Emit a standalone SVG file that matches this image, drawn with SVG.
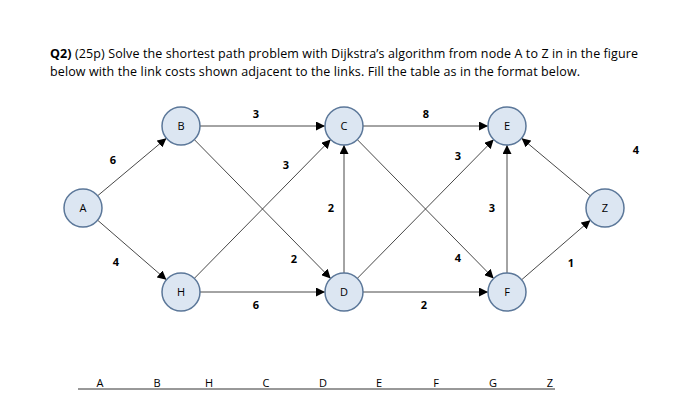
<svg xmlns="http://www.w3.org/2000/svg" width="700" height="416" viewBox="0 0 700 416">
<defs>
<marker id="ar" viewBox="0 0 10 10" refX="10" refY="5" markerWidth="9" markerHeight="9" markerUnits="userSpaceOnUse" orient="auto"><path d="M0,0L10,5L0,10z" fill="#000"/></marker>
</defs>
<style>
.t{font-family:"Open Sans","Liberation Sans",sans-serif;font-size:12.5px;fill:#000}
.n circle{fill:#dce6f2;stroke:#5b7799;stroke-width:1.5}
.n text{font-family:"Open Sans","Liberation Sans",sans-serif;font-size:11px;text-anchor:middle;fill:#000}
.e line{stroke:#333;stroke-width:0.9;marker-end:url(#ar)}
.w{font-family:"Open Sans","Liberation Sans",sans-serif;font-size:11px;font-weight:bold;text-anchor:middle}
.h{font-family:"Open Sans","Liberation Sans",sans-serif;font-size:11px;text-anchor:middle}
</style>
<rect width="700" height="416" fill="#fff"/>
<text class="t" x="50" y="58" textLength="588"><tspan font-weight="bold">Q2)</tspan> (25p) Solve the shortest path problem with Dijkstra’s algorithm from node A to Z in in the figure</text>
<text class="t" x="50" y="76" textLength="530">below with the link costs shown adjacent to the links. Fill the table as in the format below.</text>
<g class="e" id="connectors">
<line x1="97.6" y1="195.8" x2="166.4" y2="138.2"/>
<line x1="97.6" y1="220.2" x2="166.4" y2="279.8"/>
<line x1="200" y1="126" x2="325" y2="126"/>
<line x1="194.3" y1="139.6" x2="330.7" y2="278.4"/>
<line x1="194.3" y1="278.4" x2="330.7" y2="139.6"/>
<line x1="200" y1="292" x2="325" y2="292"/>
<line x1="344" y1="273" x2="344" y2="145"/>
<line x1="363" y1="126" x2="488" y2="126"/>
<line x1="357.3" y1="139.6" x2="493.7" y2="278.4"/>
<line x1="357.3" y1="278.4" x2="493.7" y2="139.6"/>
<line x1="363" y1="292" x2="488" y2="292"/>
<line x1="507" y1="273" x2="507" y2="145"/>
<line x1="590.4" y1="195.8" x2="521.6" y2="138.2"/>
<line x1="521.6" y1="279.8" x2="590.4" y2="220.2"/>
</g>
<g id="weights" class="w">
<text x="113" y="164">6</text><text x="116" y="266">4</text>
<text x="256" y="118">3</text><text x="286" y="169">3</text>
<text x="331" y="212">2</text><text x="294" y="263">2</text>
<text x="256" y="309">6</text><text x="426" y="118">8</text>
<text x="458" y="160">3</text><text x="458" y="262">4</text>
<text x="424" y="309">2</text><text x="492" y="212">3</text>
<text x="636" y="154">4</text><text x="571" y="267">1</text>
</g>
<g class="n" id="A"><circle cx="83" cy="208" r="19"/><text x="83" y="212">A</text></g>
<g class="n" id="B"><circle cx="181" cy="126" r="19"/><text x="181" y="130">B</text></g>
<g class="n" id="H"><circle cx="181" cy="292" r="19"/><text x="181" y="296">H</text></g>
<g class="n" id="C"><circle cx="344" cy="126" r="19"/><text x="344" y="130">C</text></g>
<g class="n" id="D"><circle cx="344" cy="292" r="19"/><text x="344" y="296">D</text></g>
<g class="n" id="E"><circle cx="507" cy="126" r="19"/><text x="507" y="130">E</text></g>
<g class="n" id="F"><circle cx="507" cy="292" r="19"/><text x="507" y="296">F</text></g>
<g class="n" id="Z"><circle cx="605" cy="208" r="19"/><text x="605" y="212">Z</text></g>
<g id="table" class="h">
<text x="100" y="387">A</text><text x="157" y="387">B</text><text x="209" y="387">H</text>
<text x="266" y="387">C</text><text x="323" y="387">D</text><text x="379" y="387">E</text>
<text x="436" y="387">F</text><text x="493" y="387">G</text><text x="550" y="387">Z</text>
<line x1="78" y1="389" x2="555" y2="389" stroke="#333" stroke-width="1"/>
</g>
</svg>
